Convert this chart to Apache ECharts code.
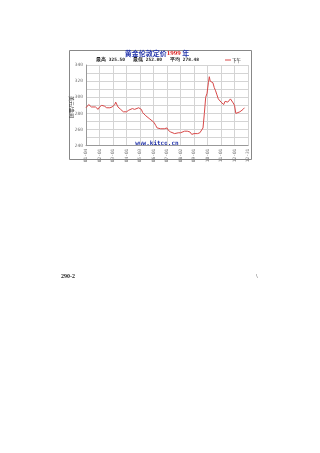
<!DOCTYPE html>
<html><head><meta charset="utf-8">
<script src="https://cdn.jsdelivr.net/npm/echarts@6/dist/echarts.min.js"></script>
<style>html,body{margin:0;padding:0;background:#fff}#c{width:320px;height:453px}</style>
</head><body><div id="c"></div>
<script>
const tickLabels = ['01-04','02-01','03-01','04-01','05-03','06-01','07-01','08-02','09-01','10-01','11-01','12-01','12-31'];
const days = [0,3,6,9,12,16,21,24,27,30,33,35,38,41,46,50,53,58,61,64,66,68,71,74,77,80,83,87,90,95,99,103,108,112,117,120,123,126,129,133,137,142,146,151,155,158,161,166,170,174,177,180,183,188,192,197,201,205,210,214,219,222,225,228,231,235,240,244,248,253,257,260,263,266,269,272,274,276,279,282,285,288,291,294,297,300,303,306,309,312,315,318,321,324,327,330,333,334,337,342,346,349,352];
const pmFix = [287,289,291,292,288,287,288,287,285,288,289,290,288,289,287,288,287,288,288,291,294,292,288,287,285,283,282,283,282,284,285,286,285,283,287,288,285,281,279,277,276,273,271,269,265,262,261,261,262,261,263,262,259,257,256,255,255,256,256,257,258,259,258,256,257,254,255,256,255,256,256,262,280,300,305,318,325.5,320,322,318,312,308,303,298,296,294,292,291,295,296,294,295,298,298,293,290,280,278,281,282,282,285,287];
const yTicks = [240,260,280,300,320,340];
const stats = {high:'325.50', low:'252.80', avg:'278.48'};

const chart = echarts.init(document.getElementById('c'));
const grayTxt = '#777';
const sub = {fontSize:4.5, fontWeight:'bold', fill:'#222', fontFamily:'DejaVu Sans Mono'};
chart.setOption({
  animation:false,
  backgroundColor:'#fff',
  grid:{left:86, top:65, width:162, height:80.7},
  title:{
    text:'{a|黄金伦敦定价}{b|1999}{a| 年}',
    left:157, top:49, textAlign:'center', padding:0,
    textStyle:{rich:{
      a:{fontSize:7, lineHeight:8, fontWeight:'bold', color:'#2233aa', fontFamily:'Noto Sans CJK SC'},
      b:{fontSize:7, lineHeight:8, color:'#dd2222', fontFamily:'Liberation Serif'}
    }}
  },
  xAxis:{type:'value', min:0, max:360, interval:30,
    axisLine:{show:true, lineStyle:{color:'#999', width:1}},
    axisTick:{show:false},
    splitLine:{show:true, lineStyle:{color:'#d4d4d4', width:1}},
    axisLabel:{rotate:90, fontSize:4.5, color:grayTxt, margin:3, fontFamily:'DejaVu Sans Mono',
      formatter:v=>tickLabels[Math.round(v/30)]||''}
  },
  yAxis:{type:'value', min:240, max:340, interval:10,
    axisLine:{show:true, lineStyle:{color:'#999'}},
    axisTick:{show:false},
    splitLine:{show:true, lineStyle:{color:'#d4d4d4', width:1}},
    axisLabel:{fontSize:4.5, color:grayTxt, margin:3, fontFamily:'DejaVu Sans Mono',
      formatter:v=>yTicks.includes(v)?String(v):''}
  },
  series:[{type:'line', name:'下午', data:days.map((d,i)=>[d,pmFix[i]]),
    showSymbol:false, lineStyle:{color:'#d84848', width:1}}],
  graphic:[
    {type:'rect', shape:{x:69.5,y:50.5,width:182,height:109}, style:{fill:'none', stroke:'#888', lineWidth:1}, z:-1},
    {type:'text', x:96, y:60, style:Object.assign({text:'最高 '+stats.high, verticalAlign:'middle'}, sub)},
    {type:'text', x:133, y:60, style:Object.assign({text:'最低 '+stats.low, verticalAlign:'middle'}, sub)},
    {type:'text', x:170, y:60, style:Object.assign({text:'平均 '+stats.avg, verticalAlign:'middle'}, sub)},
    {type:'line', shape:{x1:225,y1:60,x2:231,y2:60}, style:{stroke:'#d84848', lineWidth:1}},
    {type:'text', x:232, y:60, style:{text:'下午', fontSize:4.5, fill:'#222', verticalAlign:'middle', fontFamily:'Noto Sans CJK SC'}},
    {type:'text', x:72, y:107, rotation:-Math.PI/2, style:{text:'美元/盎司', fontSize:5, fill:'#333', align:'center', verticalAlign:'middle', fontFamily:'Noto Sans CJK SC'}},
    {type:'text', x:157, y:143, style:{text:'www.kitco.cn', fontSize:6, fontWeight:'bold', fill:'#2233aa', align:'center', verticalAlign:'middle', fontFamily:'DejaVu Sans Mono'}},
    {type:'text', left:61, top:273, style:{text:'290-2', fontSize:6, fontWeight:'bold', fill:'#222', fontFamily:'Liberation Serif'}},
    {type:'text', left:256, top:273, style:{text:'\\', fontSize:6, fill:'#222', fontFamily:'Liberation Serif'}}
  ]
});
</script></body></html>
